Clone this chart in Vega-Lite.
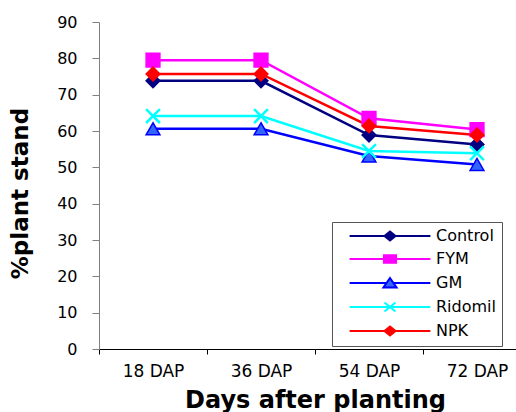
{
  "$schema": "https://vega.github.io/schema/vega-lite/v6.json",
  "width": 432,
  "height": 327,
  "autosize": {"type": "none"},
  "padding": {"left": 99, "top": 22, "right": 0, "bottom": 63},
  "background": "white",
  "config": {"view": {"stroke": null}, "font": "DejaVu Sans"},
  "data": {
    "values": [
      {"series": "Control", "day": "18 DAP", "stand": 73.8},
      {"series": "Control", "day": "36 DAP", "stand": 73.8},
      {"series": "Control", "day": "54 DAP", "stand": 58.9},
      {"series": "Control", "day": "72 DAP", "stand": 56.3},
      {"series": "FYM", "day": "18 DAP", "stand": 79.5},
      {"series": "FYM", "day": "36 DAP", "stand": 79.5},
      {"series": "FYM", "day": "54 DAP", "stand": 63.5},
      {"series": "FYM", "day": "72 DAP", "stand": 60.4},
      {"series": "GM", "day": "18 DAP", "stand": 60.6},
      {"series": "GM", "day": "36 DAP", "stand": 60.6},
      {"series": "GM", "day": "54 DAP", "stand": 53.1},
      {"series": "GM", "day": "72 DAP", "stand": 50.8},
      {"series": "Ridomil", "day": "18 DAP", "stand": 64.1},
      {"series": "Ridomil", "day": "36 DAP", "stand": 64.1},
      {"series": "Ridomil", "day": "54 DAP", "stand": 54.5},
      {"series": "Ridomil", "day": "72 DAP", "stand": 53.9},
      {"series": "NPK", "day": "18 DAP", "stand": 75.7},
      {"series": "NPK", "day": "36 DAP", "stand": 75.7},
      {"series": "NPK", "day": "54 DAP", "stand": 61.4},
      {"series": "NPK", "day": "72 DAP", "stand": 58.9}
    ]
  },
  "encoding": {
    "x": {
      "field": "day",
      "type": "nominal",
      "sort": ["18 DAP", "36 DAP", "54 DAP", "72 DAP"],
      "scale": {"type": "band", "paddingInner": 0, "paddingOuter": 0},
      "axis": {
        "title": "Days after planting",
        "titleFontSize": 24,
        "titleFontWeight": "bold",
        "titleColor": "#000",
        "titleY": 51,
        "titleBaseline": "middle",
        "labelFontSize": 17,
        "labelColor": "#000",
        "labelAngle": 0,
        "labelPadding": 9,
        "tickBand": "extent",
        "tickSize": 5,
        "tickColor": "#000",
        "domainColor": "#000",
        "grid": false
      }
    },
    "y": {
      "field": "stand",
      "type": "quantitative",
      "scale": {"domain": [0, 90], "nice": false},
      "axis": {
        "title": "%plant stand",
        "values": [0, 10, 20, 30, 40, 50, 60, 70, 80, 90],
        "titleFontSize": 23,
        "titleFontWeight": "bold",
        "titleColor": "#000",
        "titleX": -79,
        "titleY": 171,
        "titleAlign": "center",
        "titleBaseline": "middle",
        "labelFontSize": 16,
        "labelColor": "#000",
        "labelPadding": 15,
        "tickSize": 7,
        "tickColor": "#808080",
        "domainColor": "#808080",
        "grid": false
      }
    }
  },
  "layer": [
    {
      "mark": {"type": "point", "filled": true, "opacity": 0},
      "encoding": {
        "shape": {
          "field": "series",
          "type": "nominal",
          "scale": {
            "domain": ["Control", "FYM", "GM", "Ridomil", "NPK"],
            "range": [
              "M-8,0H-1.1M1.1,0H8M0,-0.9L1.1,0L0,0.9L-1.1,0Z",
              "M-8,0H-1.2M1.2,0H8M-1.2,-0.75H1.2V0.75H-1.2Z",
              "M-8,0H-0.68M0.68,0H8M0,-1L1.3,0.9H-1.3Z",
              "M-8,0H8M-1.1,-0.9L1.1,0.9M-1.1,0.9L1.1,-0.9",
              "M-8,0H-1.1M1.1,0H8M0,-0.9L1.1,0L0,0.9L-1.1,0Z"
            ]
          },
          "legend": {"orient": "none", "legendX": 233, "legendY": 200, "title": null, "strokeColor": "#555", "fillColor": "white", "padding": 6, "symbolSize": 102, "symbolOffset": 44, "labelOffset": 38, "labelFontSize": 16, "labelColor": "#000", "rowPadding": 6, "symbolStrokeWidth": 2, "symbolOpacity": 1}
        },
        "stroke": {
          "field": "series",
          "type": "nominal",
          "scale": {"domain": ["Control", "FYM", "GM", "Ridomil", "NPK"], "range": ["#000080", "#FF00FF", "#0000FF", "#00FFFF", "#FF0000"]},
          "legend": {"orient": "none", "legendX": 233, "legendY": 200, "title": null, "strokeColor": "#555", "fillColor": "white", "padding": 6, "symbolSize": 102, "symbolOffset": 44, "labelOffset": 38, "labelFontSize": 16, "labelColor": "#000", "rowPadding": 6, "symbolStrokeWidth": 2, "symbolOpacity": 1}
        },
        "fill": {
          "field": "series",
          "type": "nominal",
          "scale": {"domain": ["Control", "FYM", "GM", "Ridomil", "NPK"], "range": ["#000080", "#FF00FF", "#3366FF", "transparent", "#FF0000"]},
          "legend": {"orient": "none", "legendX": 233, "legendY": 200, "title": null, "strokeColor": "#555", "fillColor": "white", "padding": 6, "symbolSize": 102, "symbolOffset": 44, "labelOffset": 38, "labelFontSize": 16, "labelColor": "#000", "rowPadding": 6, "symbolStrokeWidth": 2, "symbolOpacity": 1}
        }
      }
    },
    {
      "mark": {"type": "line", "strokeWidth": 2.5},
      "encoding": {
        "stroke": {"field": "series", "type": "nominal"}
      }
    },
    {
      "mark": {
        "type": "point",
        "filled": true,
        "opacity": 1,
        "size": 190,
        "shape": {"expr": "datum.series == 'FYM' ? 'square' : datum.series == 'GM' ? 'triangle-up' : datum.series == 'Ridomil' ? 'M-1,-1L1,1M-1,1L1,-1' : 'diamond'"},
        "strokeWidth": {"expr": "datum.series == 'Ridomil' ? 2.5 : 1.5"}
      },
      "encoding": {
        "stroke": {"field": "series", "type": "nominal"},
        "fill": {"field": "series", "type": "nominal"}
      }
    }
  ]
}
